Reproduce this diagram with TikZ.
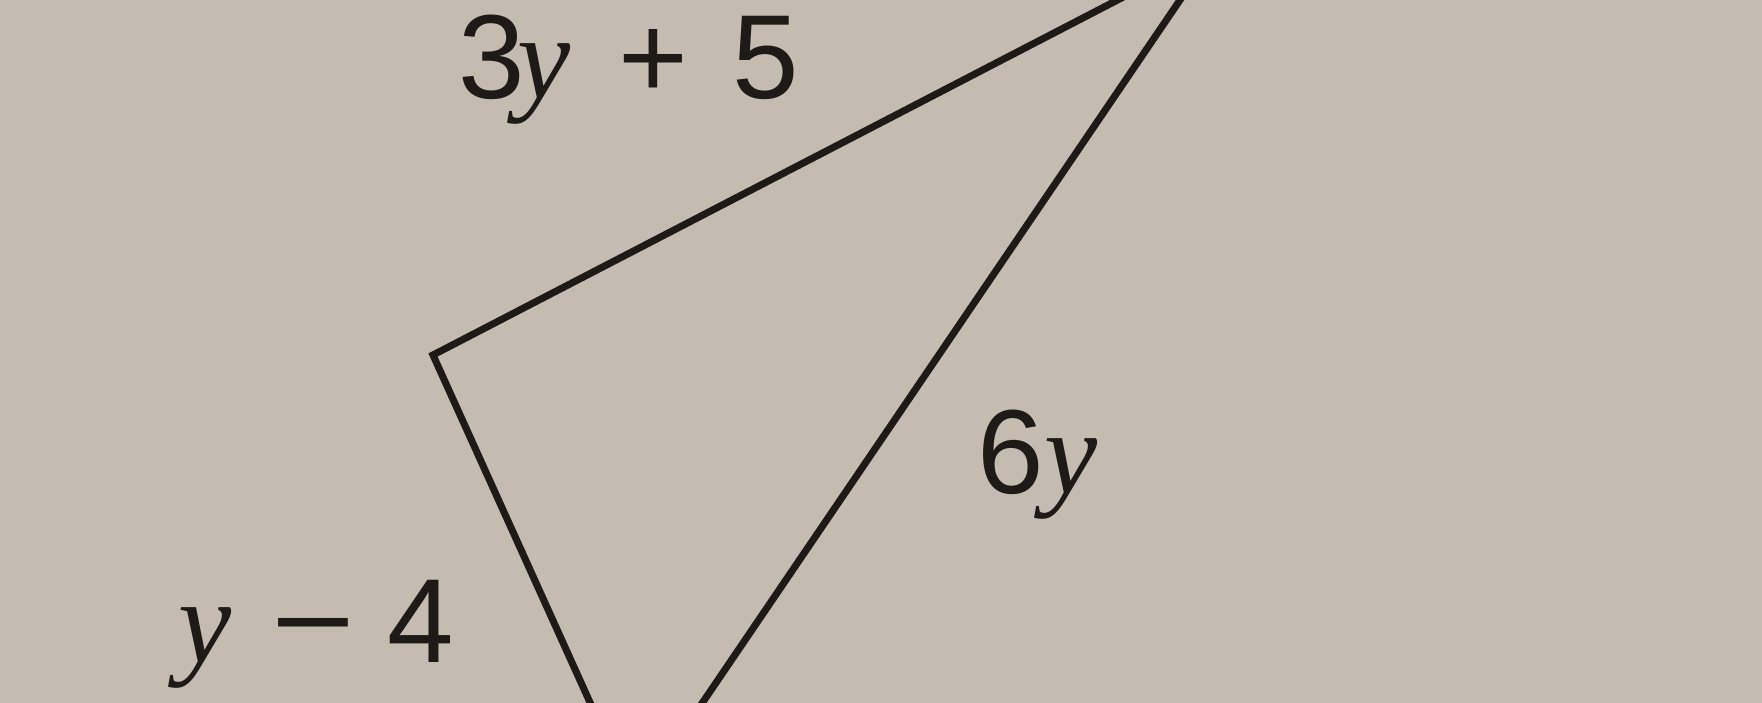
\documentclass[tikz,border=0pt]{standalone}
\usepackage{fontspec}
\setmainfont{Liberation Sans}
\newfontfamily\yfont{Liberation Serif}
\usepackage{xcolor}
\definecolor{paper}{RGB}{196,188,177}
\definecolor{ink}{RGB}{30,26,24}
\newcommand{\yvar}{{\yfont\itshape y}}
\newcommand{\longminus}{\scalebox{1.2}[1]{\textminus}}

\begin{document}
\begin{tikzpicture}[x=0.01cm, y=-0.01cm,
  side/.style={draw=ink, line width=2pt, line join=miter},
  lbl/.style={text=ink, font=\fontsize{34}{40}\selectfont, inner sep=0pt, anchor=base west}]
    \fill[paper] (0,0) rectangle (1762,703);
    \useasboundingbox (0,0) rectangle (1762,703);
    \clip (0,0) rectangle (1762,703);
    \coordinate (apex) at (1214,-50);
    \coordinate (left) at (433,355);
    \coordinate (bottom) at (635,802);
    \draw[side] (apex) -- (left) -- (bottom) -- cycle;
    \node[lbl] (top label) at (458,98) {3\kern-0.08cm\yvar\hspace{0.48cm}+\hspace{0.44cm}5};
    \node[lbl] (right label) at (977,493) {6\yvar};
    \node[lbl] (left label) at (178,662) {\yvar\hspace{0.40cm}\longminus\hspace{0.32cm}4};
\end{tikzpicture}
\end{document}
